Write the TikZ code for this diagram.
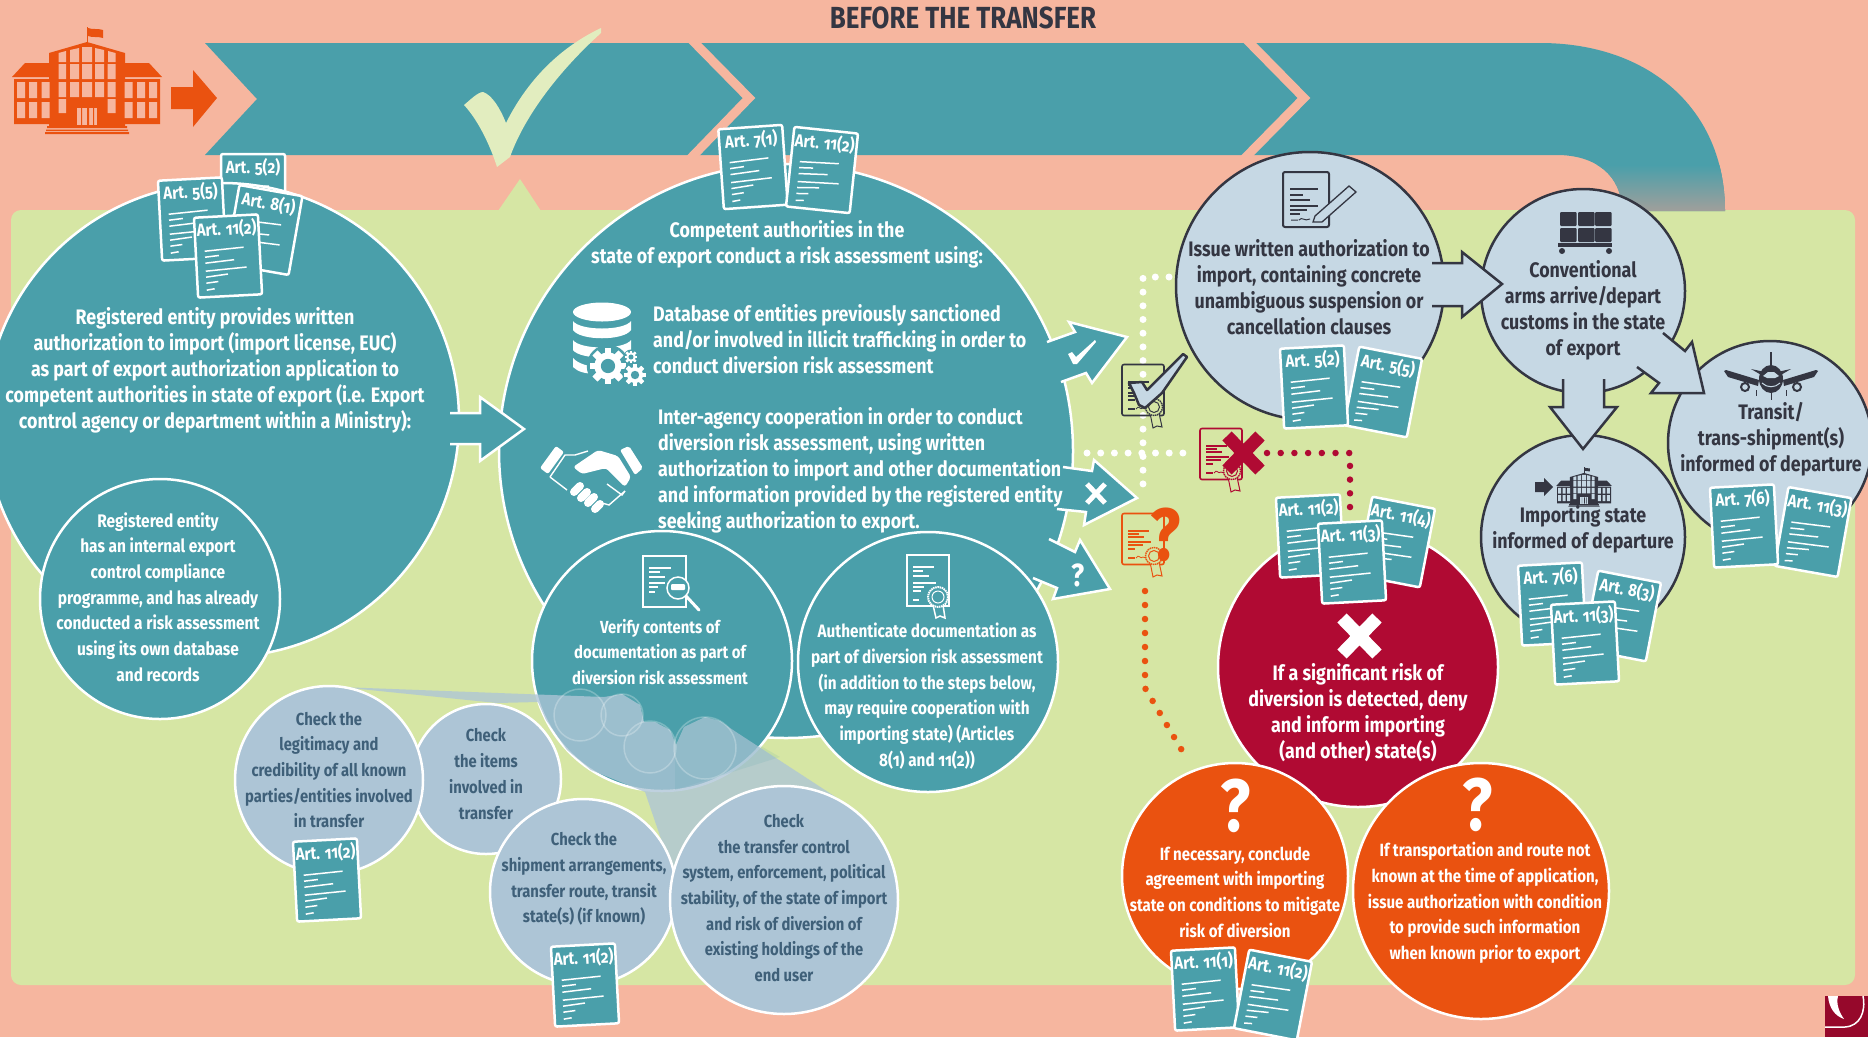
\documentclass[tikz,border=0pt]{standalone}
\usepackage{fontspec}
\setmainfont[FakeStretch=.85,Numbers=OldStyle]{Fira Sans}
\usetikzlibrary{shadings}
\definecolor{salmon}{HTML}{F6B69F}
\definecolor{panel}{HTML}{D6E6A4}
\definecolor{tealc}{HTML}{4A9FAA}
\definecolor{palec}{HTML}{E2EDBF}
\definecolor{bluec}{HTML}{C6D8E4}
\definecolor{chkc}{HTML}{ADC5D6}
\definecolor{chkt}{HTML}{3F6079}
\definecolor{darkc}{HTML}{343642}
\definecolor{redc}{HTML}{B00A33}
\definecolor{orgc}{HTML}{EA5210}
\definecolor{fadec}{HTML}{A09F9B}
\tikzset{
 whitecirc/.style={circle,draw=white,line width=2.5pt,inner sep=0pt},
 tealcirc/.style={whitecirc,fill=tealc},
 chkcirc/.style={whitecirc,fill=chkc},
 bluecirc/.style={circle,draw=darkc,line width=2.5pt,fill=bluec,inner sep=0pt},
 docbox/.style={draw=white,line width=2.5pt,fill=tealc,rounded corners=2pt,minimum width=64pt,minimum height=80pt,inner sep=0pt},
 doclabel/.style={text=white,font=\bfseries\fontsize{17.6}{20}\selectfont,inner sep=0pt},
 docline/.style={draw=white,line width=1.5pt},
 bigw/.style={text=white,align=center,inner sep=0pt,font=\bfseries\fontsize{21}{26}\selectfont},
 bigl/.style={text=white,align=left,inner sep=0pt,font=\bfseries\fontsize{21}{26}\selectfont},
 smallw/.style={text=white,align=center,inner sep=0pt,font=\bfseries\fontsize{18.2}{25.7}\selectfont},
 midw/.style={text=white,align=center,inner sep=0pt,font=\bfseries\fontsize{17.5}{25.7}\selectfont},
 chkx/.style={text=chkt,align=center,inner sep=0pt,font=\bfseries\fontsize{17.4}{25.7}\selectfont},
 darkx/.style={text=darkc,align=center,inner sep=0pt,font=\bfseries\fontsize{21}{26}\selectfont},
 dotw/.style={draw=white,line width=7pt,line cap=round,dash pattern=on 0pt off 13.7pt},
 dotr/.style={draw=redc,line width=6.5pt,line cap=round,dash pattern=on 0pt off 13.7pt},
 doto/.style={draw=orgc,line width=6.5pt,line cap=round,dash pattern=on 0pt off 14pt},
 tarrow/.style={fill=tealc},
 tedge/.style={draw=white,line width=2.5pt,miter limit=10},
 barrow/.style={fill=bluec},
 bedge/.style={draw=darkc,line width=2.5pt,miter limit=10},
 iconw/.style={draw=white,line width=1.5pt},
 iconk/.style={draw=darkc,line width=2pt},
}
\newcommand{\artdoc}[5]{%
 \begin{scope}[shift={(#2,#3)},rotate=#4,transform shape]
 \node[docbox] (#1) at (0,0) {};
 \node[doclabel] (#1t) at (0,-27) {#5};
 \draw[docline] (-23,-6)--(16,-8) (-23,0)--(-9,-1) (-23,6)--(6,4) (-23,14)--(18,12) (-23,20)--(-1,18) (-23,26)--(-11,25) (-23,33)--(-15,32);
 \end{scope}}
\newcommand{\school}[5]{% x y scale fg bg
 \begin{scope}[shift={(#1,#2)},scale=#3]
 \fill[#4] (-38,-27)--(0,-38)--(38,-27)--(38,46)--(-38,46)--cycle;
 \fill[#4] (-75,-3)--(-62,-17)--(-38,-17)--(-38,-3)--cycle (75,-3)--(62,-17)--(38,-17)--(38,-3)--cycle;
 \fill[#4] (-73,-1) rectangle (-36,44) (36,-1) rectangle (73,44);
 \fill[#4] (-40,46) rectangle (40,48) (-41,49.5) rectangle (41,51) (-42,52) rectangle (42,54);
 \draw[#4,line width=1pt] (0,-38)--(0,-53);
 \fill[#4] (1,-52) .. controls (6,-50) and (10,-52) .. (16,-50)--(16,-42) .. controls (10,-44) and (6,-42) .. (1,-44)--cycle;
 \fill[#5] (-28.5,-27)--(-21,-29)--(-21,-18)--(-28.5,-18)--cycle (-17,-30)--(-8,-32)--(-8,-18)--(-17,-18)--cycle
   (-5,-33)--(5,-33)--(5,-18)--(-5,-18)--cycle (8,-32)--(17,-30)--(17,-18)--(8,-18)--cycle (21,-29)--(28.5,-27)--(28.5,-18)--(21,-18)--cycle;
 \foreach \cx/\cw in {-28.5/7.5,-17/9,-5/10,8/9,20.5/8}{
   \fill[#5] (\cx,-16) rectangle ++(\cw,15) (\cx,2) rectangle ++(\cw,15);}
 \fill[#5] (-28.5,19) rectangle ++(7.5,14) (20.5,19) rectangle ++(8,14);
 \fill[#5] (-10,28) rectangle (10,45);
 \fill[#4] (-6,28) rectangle (-5,45) (0,28) rectangle (2,45) (6,28) rectangle (7,45);
 \foreach \cx in {-70,-58,-45.5,37.5,50,62}{
   \fill[#5] (\cx,2) rectangle ++(8,16) (\cx,22) rectangle ++(8,16);}
 \end{scope}}
\newcommand{\gear}[3]{% x y r
 \fill[tealc] (#1,#2) circle ({#3*1.25});
 \foreach \ga in {0,45,...,315}{
  \fill[white,shift={(#1,#2)},rotate=\ga] ({-#3*.2},{-#3*1.08}) rectangle ({#3*.2},{#3*1.08});}
 \fill[white] (#1,#2) circle ({#3*.8});
 \fill[tealc] (#1,#2) circle ({#3*.42});}
\newcommand{\cert}[3]{% x y colour
 \begin{scope}[shift={(#1,#2)}]
 \draw[#3,line width=1.6pt,rounded corners=2pt] (-21,-25.5) rectangle (21,25.5);
 \draw[#3,line width=1.3pt] (-15,-8)--(6,-8) (-15,-5)--(-4,-5) (-15,-2)--(1,-2) (-15,3)--(8,3) (-15,6)--(0,6) (-15,10)--(-8,10) (-15,19)--(-8,19);
 \draw[#3,line width=.8pt] (-7,19) .. controls (-4,14) and (-3,21) .. (0,18) .. controls (2,20) and (3,18) .. (4,19);
 \draw[#3,line width=1pt,fill=panel] (7,23)--(10,38)--(14,36)--(19,37)--(16,23)--cycle;
 \draw[#3,line width=1.4pt,fill=panel,dashed,dash pattern=on 1.5pt off .7pt] (11,17) circle (8.5);
 \draw[#3,line width=1pt] (11,17) circle (5.5);
 \end{scope}}
\begin{document}
\begin{tikzpicture}[x=1pt,y=-1pt]
\useasboundingbox (0,0) rectangle (1868,1037);
\fill[salmon] (0,0) rectangle (1868,1037);
\fill[panel,rounded corners=10pt] (11,210) rectangle (1855,985);
\fill[panel] (498,211)--(520,179)--(541,211)--cycle;
% band
\fill[tealc] (205,43)--(1540,43) .. controls (1650,43) and (1725,110) .. (1725,211)--(1622,211) .. controls (1622,175) and (1595,155) .. (1557,155)--(205,155)--(257,99)--cycle;
\begin{scope}
\clip (1500,43)--(1540,43) .. controls (1650,43) and (1725,110) .. (1725,211)--(1622,211) .. controls (1622,175) and (1595,155) .. (1557,155)--(1500,155)--cycle;
\shade[top color=tealc,bottom color=fadec] (1590,165) rectangle (1740,211);
\end{scope}
\draw[salmon,line width=9pt,miter limit=10] (689,37)--(749,98)--(688,161);
\draw[salmon,line width=9pt,miter limit=10] (1244,37)--(1304,98)--(1242,161);
% large tick
\fill[palec] (601,28) .. controls (565,45) and (530,75) .. (506,123) .. controls (500,108) and (492,95) .. (483,92) .. controls (478,92) and (470,100) .. (464,105) .. controls (478,120) and (490,145) .. (497,167)--(510,157) .. controls (525,115) and (560,70) .. (601,33)--cycle;
\school{87}{80}{1}{orgc}{salmon}
\fill[orgc] (171,87)--(193,87)--(193,70)--(217,98)--(193,127)--(193,109)--(171,109)--cycle;
\node[text=darkc,inner sep=0pt,font=\bfseries\fontsize{30.5}{32}\selectfont] (title) at (963,18) {BEFORE THE TRANSFER};
% first circle
\artdoc{da}{253}{194}{0}{Art. 5(2)}
\node[tealcirc,minimum size=474pt] (c1) at (222,420) {};
\artdoc{db}{192}{219}{3}{Art. 5(5)}
\artdoc{dc}{264}{230}{-10}{Art. 8(1)}
\artdoc{dd}{228}{256}{3}{Art. 11(2)}
\node[tealcirc,minimum size=240pt] (c1b) at (160,599) {};
\node[bigw] (t1) at (215,370) {Registered entity provides written\\authorization to import (import license, EUC)\\as part of export authorization application to\\competent authorities in state of export (i.e. Export\\control agency or department within a Ministry):};
\node[smallw] (t1b) at (158,597) {Registered entity\\has an internal export\\control compliance\\programme, and has already\\conducted a risk assessment\\using its own database\\and records};
% second circle
\node[tealcirc,minimum size=574pt] (c2) at (786,451) {};
\artdoc{de}{753}{167}{4}{Art. 7(1)}
\artdoc{df}{822}{170}{-6}{Art. 11(2)}
\node[whitecirc,fill=none,draw=none,minimum size=1pt] (a12) at (524,429) {};
\fill[tarrow] (450,413)--(480,413)--(480,397)--(a12.center)--(480,461)--(480,444)--(450,444)--cycle;
\draw[tedge] (450,413)--(480,413)--(480,397)--(a12.center)--(480,461)--(480,444)--(450,444);
\node[tealcirc,minimum size=260pt] (c3) at (662,661) {};
\node[tealcirc,minimum size=260pt] (c4) at (928,662) {};
% decision arrows
\fill[tarrow] (1047,342)--(1075,332)--(1069,322)--(1127,337)--(1092,383)--(1086,373)--(1061,382)--(1040,400)--(1030,360)--cycle;
\draw[tedge] (1047,342)--(1075,332)--(1069,322)--(1127,337)--(1092,383)--(1086,373)--(1061,382);
\fill[tarrow] (1063,467)--(1092,471)--(1094,460)--(1137,498)--(1084,525)--(1086,512)--(1057,509)--cycle;
\draw[tedge] (1063,467)--(1092,471)--(1094,460)--(1137,498)--(1084,525)--(1086,512)--(1057,509);
\fill[tarrow] (1049,539)--(1075,552)--(1080,540)--(1110,589)--(1053,599)--(1057,588)--(1033,578)--(1020,560)--cycle;
\draw[tedge] (1049,539)--(1075,552)--(1080,540)--(1110,589)--(1053,599)--(1057,588)--(1033,578);
\fill[white] (1068,354)--(1072,352)--(1076,357)--(1095,340)--(1096,342)--(1077,364)--(1073,364)--cycle;
\draw[white,line width=5pt] (1087,484)--(1105,503) (1105,484)--(1087,503);
\node[text=white,inner sep=0pt,font=\bfseries\fontsize{32}{32}\selectfont] (qa) at (1078,575) {?};
\node[bigl] (t3) at (653,339) [anchor=west] {Database of entities previously sanctioned\\and/or involved in illicit trafficking in order to\\conduct diversion risk assessment};
\node[bigl] (t4) at (658,470) [anchor=west] {Inter-agency cooperation in order to conduct\\diversion risk assessment, using written\\authorization to import and other documentation\\and information provided by the registered entity\\seeking authorization to export.};
\node[bigw] (t2) at (787,244) {Competent authorities in the\\state of export conduct a risk assessment using:};
% database icon
\fill[white] (602,312) ellipse (29 and 9.5);
\fill[white] (573,321) .. controls (580,331) and (624,331) .. (631,321)--(631,330) .. controls (624,341) and (580,341) .. (573,330)--cycle;
\fill[white] (573,340) .. controls (580,350) and (624,350) .. (631,340)--(631,350) .. controls (624,360) and (580,360) .. (573,350)--cycle;
\fill[white] (573,358) .. controls (578,364) and (590,367) .. (600,367)--(600,374) .. controls (585,374) and (578,372) .. (573,367)--cycle;
\gear{608}{366}{17}
\gear{631}{357}{6}
\gear{635}{375}{10}
% handshake
\fill[white,rounded corners=2pt] (540,468)--(556,446)--(564,452)--(548,474)--cycle (620,450)--(629,446)--(643,468)--(635,475)--cycle;
\fill[white,rounded corners=3pt] (573,467)--(598,450)--(618,456)--(631,477)--(625,487)--(606,468)--(582,474)--cycle;
\draw[white,line width=8pt,line cap=round] (574,492)--(580,486) (581,498)--(587,492) (588,503)--(594,497) (595,509)--(600,504);
\draw[white,line width=1.4pt] (550,477)--(567,490) (550,477)--(565,455)--(575,455)--(588,451) (607,484)--(622,495)--(625,491) (602,503)--(609,505)--(625,491);
% verify / authenticate icons
\draw[iconw] (643,556) rectangle (686,607);
\draw[iconw] (649,568)--(671,568) (649,572)--(660,572) (649,577)--(665,577) (649,583)--(665,583) (649,587)--(658,587) (649,592)--(655,592);
\fill[tealc] (678,588) circle (11);
\draw[white,line width=1.5pt] (678,588) circle (11);
\draw[white,line width=3pt,line cap=round] (686,596)--(699,610);
\fill[white,rounded corners=1pt] (671,584) rectangle (685,590);
\draw[iconw] (907,555) rectangle (949,606);
\draw[iconw] (913,567)--(934,567) (913,571)--(923,571) (913,576)--(929,576) (913,583)--(936,583) (913,587)--(924,587) (913,591)--(921,591) (913,600)--(919,600);
\draw[iconw,fill=tealc] (933,605)--(936,618)--(940,616)--(945,618)--(943,605)--cycle;
\draw[white,line width=2pt,fill=tealc,dash pattern=on 1.5pt off .7pt] (938,597) circle (10);
\draw[white,line width=1pt] (938,597) circle (6);
\node[midw] (t5) at (660,652) {Verify contents of\\documentation as part of\\diversion risk assessment};
\node[midw,font=\bfseries\fontsize{18}{25.7}\selectfont] (t6) at (927,696) {Authenticate documentation as\\part of diversion risk assessment\\(in addition to the steps below,\\may require cooperation with\\importing state) (Articles\\8(1) and 11(2))};
% lens cone
\fill[chkc,opacity=.78] (340,687)--(604,697)--(622,694)--(640,705)--(644,722)--(655,722)--(670,730)--(676,745)--(684,727)--(705,717)--(720,721)--(733,730)--(848,805)--(784,900)--(675,880)--(645,792)--(591,770)--(567,750)--(546,720)--(538,702)--(497,703)--cycle;
\fill[tealc,opacity=.12] (675,745)--(684,727)--(705,717)--(720,721)--(733,730)--(780,757)--(675,790)--cycle;
\foreach \bx/\by/\br in {580/715/26,622/715/21,650/747/26,705/748/31}{
 \draw[white,opacity=.25,line width=1.5pt,fill=white,fill opacity=.05] (\bx,\by) circle (\br);}
% check circles
\node[chkcirc,minimum size=150pt] (cb) at (486,779) {};
\node[chkcirc,minimum size=188pt] (ca) at (329,780) {};
\node[chkcirc,minimum size=186pt] (cc) at (583,892) {};
\node[chkcirc,minimum size=228pt] (cd) at (784,900) {};
\node[chkx] (ta) at (329,770) {Check the\\legitimacy and\\credibility of all known\\parties/entities involved\\in transfer};
\node[chkx] (tb) at (486,774) {Check\\the items\\involved in\\transfer};
\node[chkx] (tc) at (584,879) {Check the\\shipment arrangements,\\transfer route, transit\\state(s) (if known)};
\node[chkx] (td) at (784,898) {Check\\the transfer control\\system, enforcement, political\\stability, of the state of import\\and risk of diversion of\\existing holdings of the\\end user};
\artdoc{dg}{327}{880}{3}{Art. 11(2)}
\artdoc{dh}{585}{985}{3}{Art. 11(2)}
% dotted routes
\coordinate (w1) at (1169,277); \coordinate (w2) at (1143,277); \coordinate (w3) at (1143,493);
\coordinate (w4) at (1087,453); \coordinate (w5) at (1183,453);
\draw[dotw] (w1)--(w2)--(w3);
\draw[dotw] (w4)--(w5);
\coordinate (r1) at (1267,453); \coordinate (r2) at (1350,453); \coordinate (r3) at (1350,510);
\draw[dotr] (r1)--(r2)--(r3);
\coordinate (o1) at (1145,591); \coordinate (o2) at (1145,688); \coordinate (o3) at (1187,759);
\draw[doto] (o1)--(o2)--(o3);
% certificates
\cert{1143}{390}{darkc}
\fill[bluec] (1129,383)--(1142,382)--(1147,390)--(1183,354)--(1187,357)--(1162,393)--(1145,408)--(1139,405)--(1134,393)--cycle;
\draw[darkc,line width=2.5pt,line join=round] (1129,383)--(1142,382)--(1147,390)--(1183,354)--(1187,357)--(1162,393)--(1145,408)--(1139,405)--(1134,393)--cycle;
\cert{1221}{454}{redc}
\draw[redc,line width=13pt] (1227,436)--(1260,470) (1260,436)--(1227,470);
\cert{1143}{539}{orgc}
\node[text=orgc,inner sep=0pt,font=\bfseries\fontsize{74}{74}\selectfont] (qb) at (1166,535) {?};
% blue circles
\node[bluecirc,minimum size=268pt] (c5) at (1310,286) {};
\node[bluecirc,minimum size=204pt] (c6) at (1583,291) {};
\node[bluecirc,minimum size=204pt] (c7) at (1770,443) {};
\node[bluecirc,minimum size=204pt] (c8) at (1583,537) {};
% blue arrows
\fill[barrow] (1432,263)--(1462,263)--(1462,252)--(1502,284)--(1462,317)--(1462,306)--(1432,306)--cycle;
\draw[bedge] (1432,263)--(1462,263)--(1462,252)--(1502,284)--(1462,317)--(1462,306)--(1432,306);
\fill[barrow] (1563,379)--(1563,407)--(1550,407)--(1583,449)--(1617,407)--(1604,407)--(1604,379)--cycle;
\draw[bedge] (1563,379)--(1563,407)--(1550,407)--(1583,449)--(1617,407)--(1604,407)--(1604,379);
\fill[barrow] (1663,333)--(1685,351)--(1692,342)--(1704,393)--(1651,393)--(1659,383)--(1637,367)--cycle;
\draw[bedge] (1663,333)--(1685,351)--(1692,342)--(1704,393)--(1651,393)--(1659,383)--(1637,367);
\node[darkx] (t7) at (1309,287) {Issue written authorization to\\import, containing concrete\\unambiguous suspension or\\cancellation clauses};
\node[darkx] (t8) at (1583,310) {Conventional\\arms arrive/depart\\customs in the state\\of export};
\node[darkx] (t9) at (1771,439) {Transit/\\trans-shipment(s)\\informed of departure};
\node[darkx] (t10) at (1583,529) {Importing state\\informed of departure};
% issue icon
\draw[iconk,rounded corners=2pt] (1283,172) rectangle (1329,227);
\draw[darkc,line width=1.2pt] (1290,189)--(1318,189) (1290,195)--(1303,195) (1290,200)--(1310,200) (1290,206)--(1318,206) (1290,210)--(1307,210) (1290,214)--(1300,214);
\draw[darkc,line width=1pt] (1291,220)--(1298,220) (1299,220) .. controls (1302,216) and (1304,222) .. (1310,219);
\draw[darkc,line width=1.3pt,fill=bluec] (1349,186)--(1356,192)--(1322,222)--(1313,222)--(1315,216)--cycle;
% conveyor icon
\foreach \bx in {1560,1578,1595}{\foreach \by in {212,228}{
 \fill[darkc,rounded corners=1pt] (\bx,\by) rectangle ++(16.5,14);}}
\fill[darkc] (1558,243) rectangle (1612,246.5);
\fill[darkc] (1562,251) circle (3) (1609,251) circle (3);
% plane icon
\begin{scope}[shift={(1771,379)}]
\fill[darkc] (-1.2,-27) rectangle (1.2,-11);
\fill[darkc] (-20,-10)--(-6,-7)--(6,-7)--(20,-10)--(8,-3)--(-8,-3)--cycle;
\fill[darkc] (-12,1)--(-45,-9)--(-47,-8)--(-43,-2)--(-13,7)--cycle (12,1)--(45,-9)--(47,-8)--(43,-2)--(13,7)--cycle;
\fill[darkc] (0,0) ellipse (12 and 14);
\fill[bluec] (-8,-3)--(-3,-7)--(3,-7)--(8,-3)--(4,-1)--(-4,-1)--cycle;
\draw[bluec,line width=1pt] (-9,4) .. controls (-4,9) and (4,9) .. (9,4);
\draw[darkc,line width=2pt,fill=bluec] (-26,8) circle (4) (26,8) circle (4);
\draw[darkc,line width=1pt] (-15,11)--(-15,17) (15,11)--(15,17) (0,14)--(0,21);
\end{scope}
\school{1584}{487}{.37}{darkc}{bluec}
\fill[darkc] (1535,482)--(1544,482)--(1544,478)--(1553,487)--(1544,496)--(1544,492)--(1535,492)--cycle;
% docs of blue circles
\artdoc{di}{1383}{392}{-11}{Art. 5(5)}
\artdoc{dj}{1314}{387}{3}{Art. 5(2)}
\artdoc{dk}{1813}{532}{-10}{Art. 11(3)}
\artdoc{dl}{1744}{526}{3}{Art. 7(6)}
\artdoc{dm}{1552}{604}{3}{Art. 7(6)}
\artdoc{dn}{1622}{616}{-11}{Art. 8(3)}
\artdoc{do}{1585}{643}{3}{Art. 11(3)}
% red and orange circles
\node[whitecirc,fill=redc,minimum size=280pt] (c9) at (1358,667) {};
\artdoc{dp}{1310}{536}{3}{Art. 11(2)}
\artdoc{dq}{1396}{542}{-11}{Art. 11(4)}
\artdoc{dr}{1352}{562}{3}{Art. 11(3)}
\draw[white,line width=13pt] (1342,618)--(1377,654) (1377,618)--(1342,654);
\node[bigw] (t11) at (1358,713) {If a significant risk of\\diversion is detected, deny\\and inform importing\\(and other) state(s)};
\node[whitecirc,fill=orgc,minimum size=226pt] (c10) at (1235,876) {};
\node[whitecirc,fill=orgc,minimum size=256pt] (c11) at (1481,891) {};
\node[text=white,inner sep=0pt,font=\bfseries\fontsize{74}{74}\selectfont] (qc) at (1236,806) {?};
\node[text=white,inner sep=0pt,font=\bfseries\fontsize{74}{74}\selectfont] (qd) at (1478,805) {?};
\node[midw,font=\bfseries\fontsize{17.7}{25.7}\selectfont] (t12) at (1235,892) {If necessary, conclude\\agreement with importing\\state on conditions to mitigate\\risk of diversion};
\node[midw,font=\bfseries\fontsize{17.7}{25.7}\selectfont] (t13) at (1485,903) {If transportation and route not\\known at the time of application,\\issue authorization with condition\\to provide such information\\when known prior to export};
\artdoc{ds}{1205}{989}{3}{Art. 11(1)}
\artdoc{dt}{1273}{995}{-11}{Art. 11(2)}
% logo
\fill[redc!85!black] (1824,996) rectangle (1868,1037);
\fill[salmon] (1824,996) rectangle (1825,1037);
\fill[white] (1828,996) .. controls (1829,1008) and (1835,1016) .. (1844,1019) .. controls (1839,1012) and (1836,1004) .. (1838,996)--cycle;
\draw[white,line width=1.5pt] (1863,996) .. controls (1866,1012) and (1860,1026) .. (1845,1027)--(1825,1027);
\end{tikzpicture}
\end{document}
